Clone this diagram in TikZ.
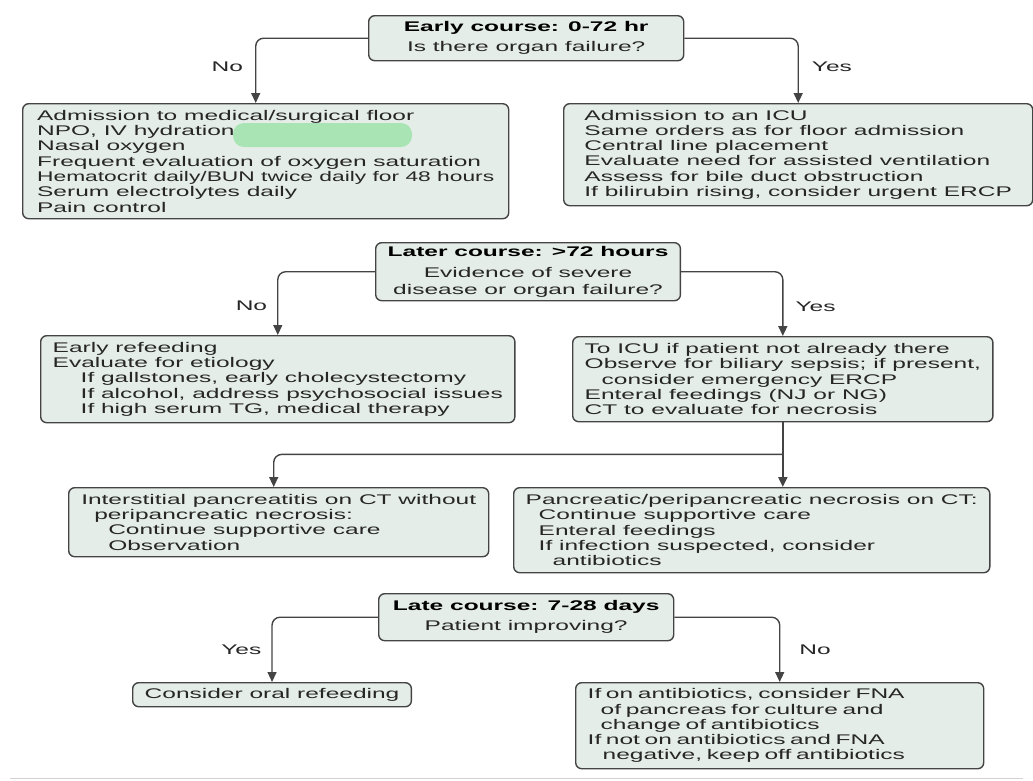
\documentclass[tikz,border=0pt]{standalone}
\usepackage{fontspec}
\usepackage{graphicx}
\setmainfont{Liberation Sans}[FakeStretch=1.75]
\usetikzlibrary{arrows.meta}

\definecolor{boxfill}{HTML}{E5EDE8}
\definecolor{boxline}{HTML}{444444}
\definecolor{bodytext}{HTML}{262626}
\definecolor{blurgreen}{HTML}{A8E4B4}

\tikzset{
  care/.style={draw=boxline, fill=boxfill, line width=1.4pt, rounded corners=6pt,
    anchor=north west, align=left, inner xsep=12pt, inner ysep=2pt, text=bodytext,
    font=\fontsize{14}{15.3}\selectfont},
  ask/.style={care, align=center},
  flow/.style={->, draw=boxline, line width=1.4pt, rounded corners=8pt},
  answer/.style={inner sep=0pt, text=bodytext, font=\fontsize{14}{15.3}\selectfont},
}

\begin{document}
\begin{tikzpicture}[x=1pt, y=-1pt, >={Triangle[width=9pt,length=10pt]}]
	\useasboundingbox (0,0) rectangle (1033,780);

	% early course
	\node[ask, minimum width=315pt, minimum height=45pt] (q1) at (368,15)
	  {{\color{black}\bfseries Early course: 0-72 hr}\\[5pt]Is there organ failure?};
	\node[care, minimum width=486pt, minimum height=115pt] (a1) at (22,103)
	  {Admission to medical/surgical floor\\
	   NPO, IV hydration\\
	   Nasal oxygen\\
	   Frequent evaluation of oxygen saturation\\
	   \scalebox{0.93}[1]{Hematocrit daily/BUN twice daily for 48 hours}\\
	   Serum electrolytes daily\\
	   Pain control};
	\fill[blurgreen, rounded corners=11pt] (233,123) rectangle (412,147);
	\node[care, minimum width=469pt, minimum height=102pt] (b1) at (563,103)
	  {Admission to an ICU\\
	   Same orders as for floor admission\\
	   Central line placement\\
	   Evaluate need for assisted ventilation\\
	   Assess for bile duct obstruction\\
	   If bilirubin rising, consider urgent ERCP};

	\draw[flow] (q1.west) -| ([xshift=-10pt]a1.north) node[answer, pos=0.72, left=12pt] (no1) {No};
	\draw[flow] (q1.east) -| (b1.north) node[answer, pos=0.72, right=13pt] (yes1) {Yes};

	% later course
	\node[ask, minimum width=302pt, minimum height=58pt] (q2) at (375,242)
	  {{\color{black}\bfseries Later course: >72 hours}\\[5.5pt]Evidence of severe\\[1.5pt]disease or organ failure?};
	\node[care, minimum width=467pt, minimum height=87pt] (a2) at (40,335)
	  {Early refeeding\\
	   Evaluate for etiology\\
	   \hspace*{28pt}If gallstones, early cholecystectomy\\
	   \hspace*{28pt}If alcohol, address psychosocial issues\\
	   \hspace*{28pt}If high serum TG, medical therapy};
	\node[care, minimum width=416pt, minimum height=85pt] (b2) at (572,336)
	  {To ICU if patient not already there\\
	   Observe for biliary sepsis; if present,\\
	   \hspace*{17pt}consider emergency ERCP\\
	   Enteral feedings (NJ or NG)\\
	   CT to evaluate for necrosis};

	\draw[flow] (q2.west) -| (a2.north) node[answer, pos=0.77, left=10pt] (no2) {No};
	\draw[flow] (q2.east) -| (b2.north) node[answer, pos=0.77, right=12pt] (yes2) {Yes};

	% ct findings
	\node[care, minimum width=420pt, minimum height=69pt] (c1) at (68,487)
	  {Interstitial pancreatitis on CT without\\
	   \hspace*{13pt}peripancreatic necrosis:\\
	   \hspace*{27pt}Continue supportive care\\
	   \hspace*{27pt}Observation};
	\node[care, minimum width=475pt, minimum height=85pt] (c2) at (513,487)
	  {Pancreatic/peripancreatic necrosis on CT:\\
	   \hspace*{13pt}Continue supportive care\\
	   \hspace*{13pt}Enteral feedings\\
	   \hspace*{13pt}If infection suspected, consider\\
	   \hspace*{27pt}antibiotics};

	\coordinate (split) at ([yshift=-32pt]b2.south);
	\draw[flow, line width=2pt] (b2.south) -- (b2.south |- c2.north);
	\draw[flow] (split) -| ([xshift=-5pt]c1.north);

	% late course
	\node[ask, minimum width=295pt, minimum height=47pt] (q3) at (378,593)
	  {{\color{black}\bfseries Late course: 7-28 days}\\[4.5pt]Patient improving?};
	\node[care, align=center, minimum width=276pt, minimum height=24pt] (d1) at (132,682)
	  {Consider oral refeeding};
	\node[care, text width=384pt, minimum height=86pt] (d2) at (575,682)
	  {If on antibiotics, consider FNA\\
	   \hspace*{13pt}of pancreas for culture and\\
	   \hspace*{13pt}change of antibiotics\\
	   If not on antibiotics and FNA\\
	   \hspace*{15pt}negative, keep off antibiotics};

	\draw[flow] (q3.west) -| (d1.north) node[answer, pos=0.75, left=10pt] (yes3) {Yes};
	\draw[flow] (q3.east) -| (d2.north) node[answer, pos=0.75, right=19pt] (no3) {No};

	\draw[gray!35, line width=1pt] (10,778) -- (1023,778);
\end{tikzpicture}
\end{document}
